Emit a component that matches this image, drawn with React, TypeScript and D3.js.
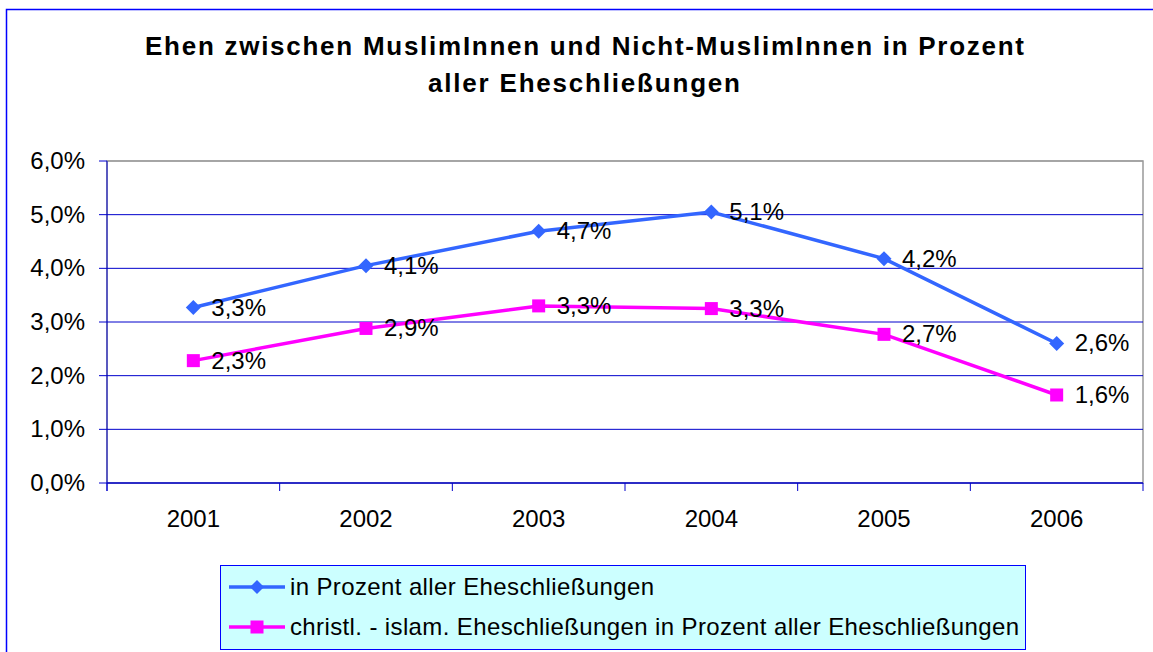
import React from "react";
import * as d3 from "d3";

const years = ["2001", "2002", "2003", "2004", "2005", "2006"];
const allMarriages = [3.27, 4.05, 4.69, 5.05, 4.18, 2.6];
const christIslam = [2.28, 2.88, 3.3, 3.25, 2.77, 1.64];
const allLabels = ["3,3%", "4,1%", "4,7%", "5,1%", "4,2%", "2,6%"];
const christLabels = ["2,3%", "2,9%", "3,3%", "3,3%", "2,7%", "1,6%"];
const yTicks = [0, 1, 2, 3, 4, 5, 6];
const yTickLabels = ["0,0%", "1,0%", "2,0%", "3,0%", "4,0%", "5,0%", "6,0%"];
const titleLines = [
  "Ehen zwischen MuslimInnen und Nicht-MuslimInnen in Prozent",
  "aller Eheschließungen",
];
const seriesNames = [
  "in Prozent aller Eheschließungen",
  "christl. - islam. Eheschließungen in Prozent aller Eheschließungen",
];

const W = 1153;
const H = 652;
const FONT = "'Liberation Sans', Arial, sans-serif";
const BLUE = "#3366FF";
const PINK = "#FF00FF";
const GRID = "#0000CC";

export default function App() {
  const left = 107, right = 1143, top = 161, bottom = 483;
  const x = d3.scaleBand<string>().domain(years).range([left, right]);
  const cx = (d: string) => (x(d) as number) + x.bandwidth() / 2;
  const y = d3.scaleLinear().domain([0, 6]).range([bottom, top]);
  const line = d3
    .line<number>()
    .x((_, i) => cx(years[i]))
    .y((v) => y(v));

  const diamond = (px: number, py: number, r: number) =>
    `M${px},${py - r}L${px + r},${py}L${px},${py + r}L${px - r},${py}Z`;

  const boundaries = [...years.map((d) => x(d) as number), right];

  return (
    <svg
      width={W}
      height={H}
      style={{ position: "absolute", left: 0, top: 0, fontFamily: FONT }}
    >
      <rect x={0} y={0} width={W} height={H} fill="#fff" />
      {/* outer frame */}
      <path d={`M6.5,${H}L6.5,9.5L${W},9.5`} fill="none" stroke="#0000FF" strokeWidth={1.5} />

      {/* title */}
      <text x={584.5} y={55} textAnchor="middle" fontWeight="bold" fontSize={26} textLength={879} lengthAdjust="spacing">
        {titleLines[0]}
      </text>
      <text x={584} y={92} textAnchor="middle" fontWeight="bold" fontSize={26} textLength={312} lengthAdjust="spacing">
        {titleLines[1]}
      </text>

      {/* plot border */}
      <rect x={left} y={top} width={right - left} height={bottom - top} fill="none" stroke="#999" strokeWidth={1.5} />
      {/* gridlines */}
      {yTicks.map((t) => (
        <line key={t} x1={left} x2={right} y1={y(t)} y2={y(t)} stroke={t === 6 ? "#999" : GRID} strokeWidth={1} />
      ))}
      {/* axes */}
      <line x1={left} x2={left} y1={top} y2={bottom + 8} stroke={GRID} strokeWidth={1} />
      <line x1={left} x2={right} y1={bottom} y2={bottom} stroke={GRID} strokeWidth={1} />
      {yTicks.map((t, i) => (
        <g key={"yt" + t}>
          <line x1={left - 8} x2={left} y1={y(t)} y2={y(t)} stroke={GRID} strokeWidth={1} />
          <text x={85} y={y(t) + 8} textAnchor="end" fontSize={24} fill="#000">
            {yTickLabels[i]}
          </text>
        </g>
      ))}
      {boundaries.map((b, i) => (
        <line key={"xt" + i} x1={b} x2={b} y1={bottom} y2={bottom + 8} stroke={GRID} strokeWidth={1} />
      ))}
      {years.map((d) => (
        <text key={"xl" + d} x={cx(d)} y={527} textAnchor="middle" fontSize={24} fill="#000">
          {d}
        </text>
      ))}

      {/* series */}
      <path d={line(allMarriages) as string} fill="none" stroke={BLUE} strokeWidth={3.5} />
      <path d={line(christIslam) as string} fill="none" stroke={PINK} strokeWidth={3.5} />
      {allMarriages.map((v, i) => (
        <path key={"dm" + i} d={diamond(cx(years[i]), y(v), 7.5)} fill={BLUE} />
      ))}
      {christIslam.map((v, i) => (
        <rect key={"sq" + i} x={cx(years[i]) - 6.5} y={y(v) - 6.5} width={13} height={13} fill={PINK} />
      ))}
      {allMarriages.map((v, i) => (
        <text key={"la" + i} x={cx(years[i]) + 18} y={y(v) + 8} fontSize={24} fill="#000">
          {allLabels[i]}
        </text>
      ))}
      {christIslam.map((v, i) => (
        <text key={"lc" + i} x={cx(years[i]) + 18} y={y(v) + 8} fontSize={24} fill="#000">
          {christLabels[i]}
        </text>
      ))}

      {/* legend */}
      <rect x={220.5} y={565.5} width={805} height={84} fill="#CCFFFF" stroke="#0000FF" strokeWidth={1} />
      <line x1={229} x2={285} y1={587} y2={587} stroke={BLUE} strokeWidth={3.5} />
      <path d={diamond(257, 587, 7)} fill={BLUE} />
      <text x={290} y={595} fontSize={24} fill="#000" textLength={364} lengthAdjust="spacing">
        {seriesNames[0]}
      </text>
      <line x1={229} x2={285} y1={627} y2={627} stroke={PINK} strokeWidth={3.5} />
      <rect x={250.5} y={620.5} width={13} height={13} fill={PINK} />
      <text x={290} y={635} fontSize={24} fill="#000" textLength={729} lengthAdjust="spacing">
        {seriesNames[1]}
      </text>
    </svg>
  );
}
